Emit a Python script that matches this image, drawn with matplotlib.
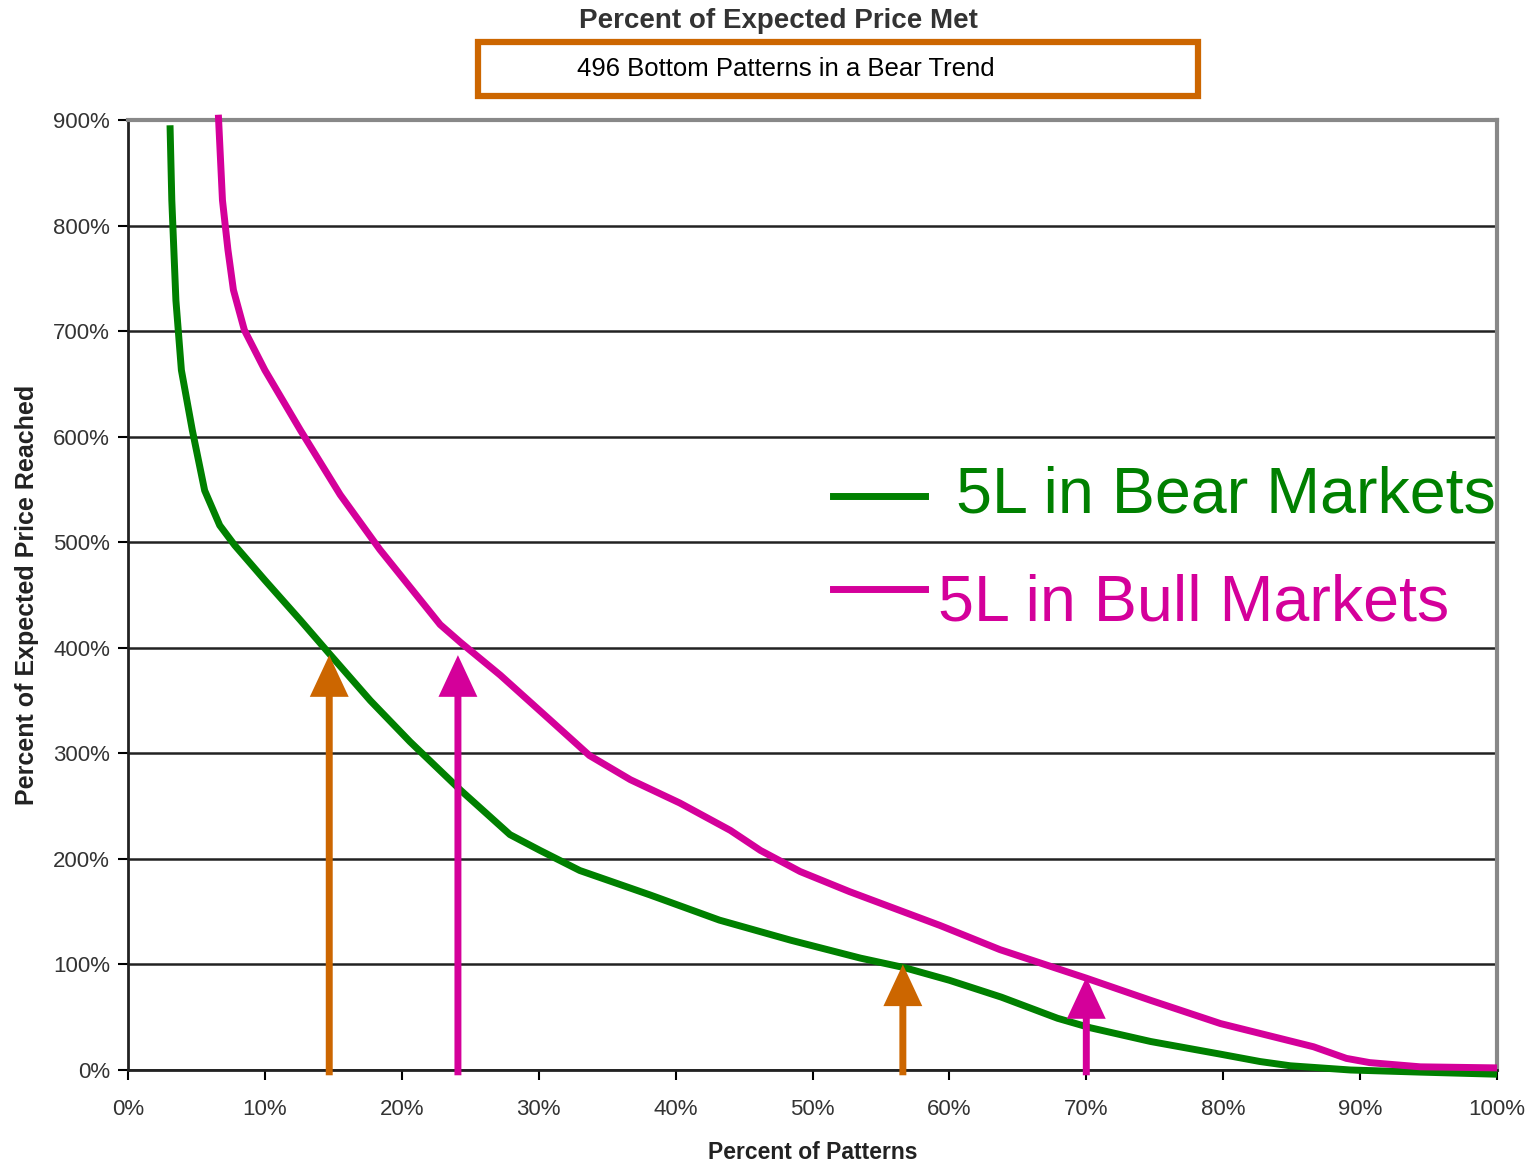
import numpy as np
import matplotlib.pyplot as plt
from matplotlib.patches import Rectangle

# (x = percent of patterns, y = percent of expected price reached)
bear_x = [3.07, 3.2, 3.5, 3.9, 4.7, 5.6, 6.7, 7.8, 10.0, 12.6, 14.8, 17.7, 20.6, 24.3,
          27.9, 30.1, 33.0, 38.1, 43.2, 48.4, 53.5, 56.7, 60.0, 63.8, 67.9, 70.3, 74.7,
          79.8, 82.7, 84.9, 89.3, 94.4, 100]
bear_y = [895, 824, 729, 663, 606, 549, 516, 497, 464, 426, 393, 350, 311, 265,
          223, 208, 189, 166, 142, 123, 106, 97, 85, 69, 49, 40, 27,
          15, 8, 4, 0, -2, -4]

bull_x = [6.6, 6.9, 7.3, 7.7, 8.5, 10.0, 12.6, 15.5, 18.4, 22.8, 24.3, 27.2, 30.8, 33.7,
          36.7, 40.3, 44.0, 46.2, 49.1, 52.7, 59.3, 63.7, 70.0, 74.7, 79.8, 86.6,
          89.0, 90.7, 94.4, 100]
bull_y = [905, 824, 777, 739, 701, 663, 606, 545, 493, 422, 405, 374, 332, 298,
          275, 253, 227, 208, 188, 169, 137, 114, 87, 66, 44, 22,
          11, 7, 3, 2]

# arrows: x position, tip height, colour
arrow_x = [14.7, 24.1, 56.6, 70.0]
arrow_top = [393, 393, 100, 88]
arrow_col = ['#CC6600', '#D4009A', '#CC6600', '#D4009A']

green = '#008000'
pink = '#D4009A'
orange = '#CC6600'

plt.rcParams['font.family'] = ['Liberation Sans', 'DejaVu Sans']

fig = plt.figure(figsize=(15.32, 11.67), dpi=100)
ax = fig.add_axes([128/1532, 1 - 1070/1167, (1497-128)/1532, (1070-120)/1167])

ax.set_xlim(0, 100)
ax.set_ylim(0, 900)
ax.set_yticks(np.arange(0, 901, 100))
ax.set_xticks(np.arange(0, 101, 10))
ax.set_yticklabels(['%d%%' % v for v in range(0, 901, 100)], fontsize=16, color='#333333')
ax.set_xticklabels(['%d%%' % v for v in range(0, 101, 10)], fontsize=16, color='#333333')
ax.tick_params(direction='out', length=7, width=1.5)
ax.tick_params(axis='x', pad=14)
ax.tick_params(axis='y', pad=6)
ax.grid(axis='y', color='#222222', lw=1.8, zorder=0)

for s in ['left', 'bottom']:
    ax.spines[s].set_linewidth(2)
    ax.spines[s].set_color('#222222')
for s in ['top', 'right']:
    ax.spines[s].set_linewidth(3)
    ax.spines[s].set_color('#888888')

ax.plot(bear_x, bear_y, color=green, lw=5, solid_capstyle='butt', zorder=3, clip_on=False)
ax.plot(bull_x, bull_y, color=pink, lw=5, solid_capstyle='butt', zorder=3, clip_on=False)

for xv, top, c in zip(arrow_x, arrow_top, arrow_col):
    ax.annotate('', xy=(xv, top), xytext=(xv, -5),
                arrowprops=dict(width=5, headwidth=28, headlength=30, color=c,
                                shrink=0, lw=0),
                zorder=4, annotation_clip=False)

# legend drawn by hand, big text
ax.plot([51.5, 58.2], [544, 544], color=green, lw=5, zorder=5)
ax.text(60.5, 544, '5L in Bear Markets', color=green, fontsize=46.5, va='center', ha='left')
ax.plot([51.5, 58.2], [456, 456], color=pink, lw=5, zorder=5)
ax.text(59.2, 442, '5L in Bull Markets', color=pink, fontsize=46.5, va='center', ha='left')

ax.set_xlabel('Percent of Patterns', fontsize=16.5, fontweight='bold', color='#222222', labelpad=15)
ax.set_ylabel('Percent of Expected Price Reached', fontsize=18, fontweight='bold',
              color='#222222', labelpad=10)

fig.text(778/1532, 1 - 21/1167, 'Percent of Expected Price Met', fontsize=20,
         fontweight='bold', color='#333333', ha='center', va='center')
fig.patches.append(Rectangle((478/1532, 1 - 96/1167), (1198-478)/1532, (96-42)/1167,
                             transform=fig.transFigure, fill=False, ec=orange, lw=4.5))
fig.text(577/1532, 1 - 69/1167, '496 Bottom Patterns in a Bear Trend', fontsize=18.5,
         color='black', ha='left', va='center')

fig.savefig('out.png', dpi=100)
